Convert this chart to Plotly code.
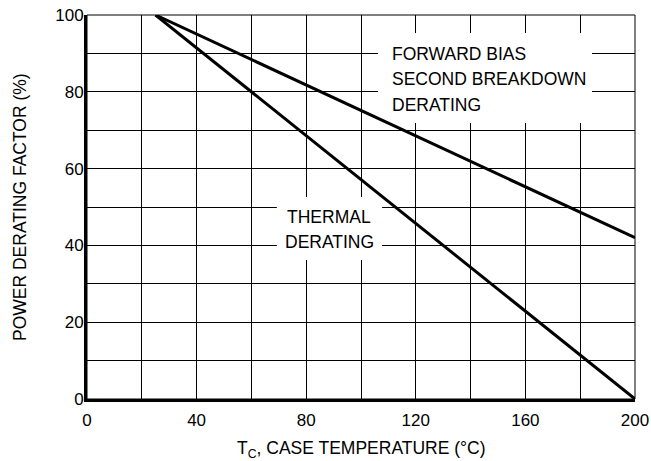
import plotly.graph_objects as go

# Data
temperature = [25, 200]
thermal_derating = [100, 0]
fbsoa_derating = [100, 42]
x_ticks = [0, 40, 80, 120, 160, 200]
y_ticks = [0, 20, 40, 60, 80, 100]
fbsoa_label = ["FORWARD BIAS", "SECOND BREAKDOWN", "DERATING"]
thermal_label = ["THERMAL", "DERATING"]

FONT = "Liberation Sans, Arial, sans-serif"
TXT = 17.5
TICK = 17

fig = go.Figure()
fig.add_trace(go.Scatter(x=temperature, y=fbsoa_derating, mode="lines",
                         line=dict(color="black", width=3), showlegend=False))
fig.add_trace(go.Scatter(x=temperature, y=thermal_derating, mode="lines",
                         line=dict(color="black", width=3), showlegend=False))

# white boxes breaking the grid behind labels
fig.add_shape(type="rect", x0=106.2, x1=184.3, y0=71.9, y1=95.3,
              fillcolor="white", line=dict(width=0), layer="between")
fig.add_shape(type="rect", x0=69.3, x1=107.7, y0=36.2, y1=52.6,
              fillcolor="white", line=dict(width=0), layer="between")
# frame
fig.add_shape(type="rect", xref="paper", yref="paper", x0=0, x1=1, y0=0, y1=1,
              line=dict(color="black", width=1), layer="above")

for txt, yy in zip(fbsoa_label, [89.9, 83.3, 76.6]):
    fig.add_annotation(x=110.6, y=yy, xanchor="left", yanchor="middle", align="left",
                       text=txt, showarrow=False,
                       font=dict(family=FONT, size=TXT, color="black"))
for txt, yy in zip(thermal_label, [47.4, 40.8]):
    fig.add_annotation(x=88.4, y=yy, xanchor="center", yanchor="middle", align="center",
                       text=txt, showarrow=False,
                       font=dict(family=FONT, size=TXT, color="black"))

# axis titles
fig.add_annotation(xref="paper", yref="paper", x=0.5, y=-50 / 384, xanchor="center", yanchor="middle",
                   text="T<sub>C</sub>, CASE TEMPERATURE (°C)", showarrow=False,
                   font=dict(family=FONT, size=TXT, color="black"))
fig.add_annotation(xref="paper", yref="paper", x=-67 / 548, y=0.5, xanchor="center", yanchor="middle",
                   text="POWER DERATING FACTOR (%)", showarrow=False, textangle=-90,
                   font=dict(family=FONT, size=TXT, color="black"))

fig.update_xaxes(range=[0, 200], tickvals=x_ticks, showgrid=True, gridcolor="black", gridwidth=1,
                 minor=dict(dtick=20, tick0=0, showgrid=True, gridcolor="black", gridwidth=1),
                 showline=True, linecolor="black", linewidth=3, ticks="", zeroline=False,
                 ticklabelstandoff=4, automargin=False,
                 tickfont=dict(family=FONT, size=TICK, color="black"))
fig.update_yaxes(range=[0, 100], tickvals=y_ticks, showgrid=True, gridcolor="black", gridwidth=1,
                 minor=dict(dtick=10, tick0=0, showgrid=True, gridcolor="black", gridwidth=1),
                 showline=True, linecolor="black", linewidth=3, ticks="", zeroline=False,
                 ticklabelstandoff=-3, automargin=False,
                 tickfont=dict(family=FONT, size=TICK, color="black"))

fig.update_layout(width=651, height=461, margin=dict(l=87, r=16, t=15, b=62),
                  plot_bgcolor="white", paper_bgcolor="white",
                  font=dict(family=FONT, color="black"))
fig.write_html("out.html")
